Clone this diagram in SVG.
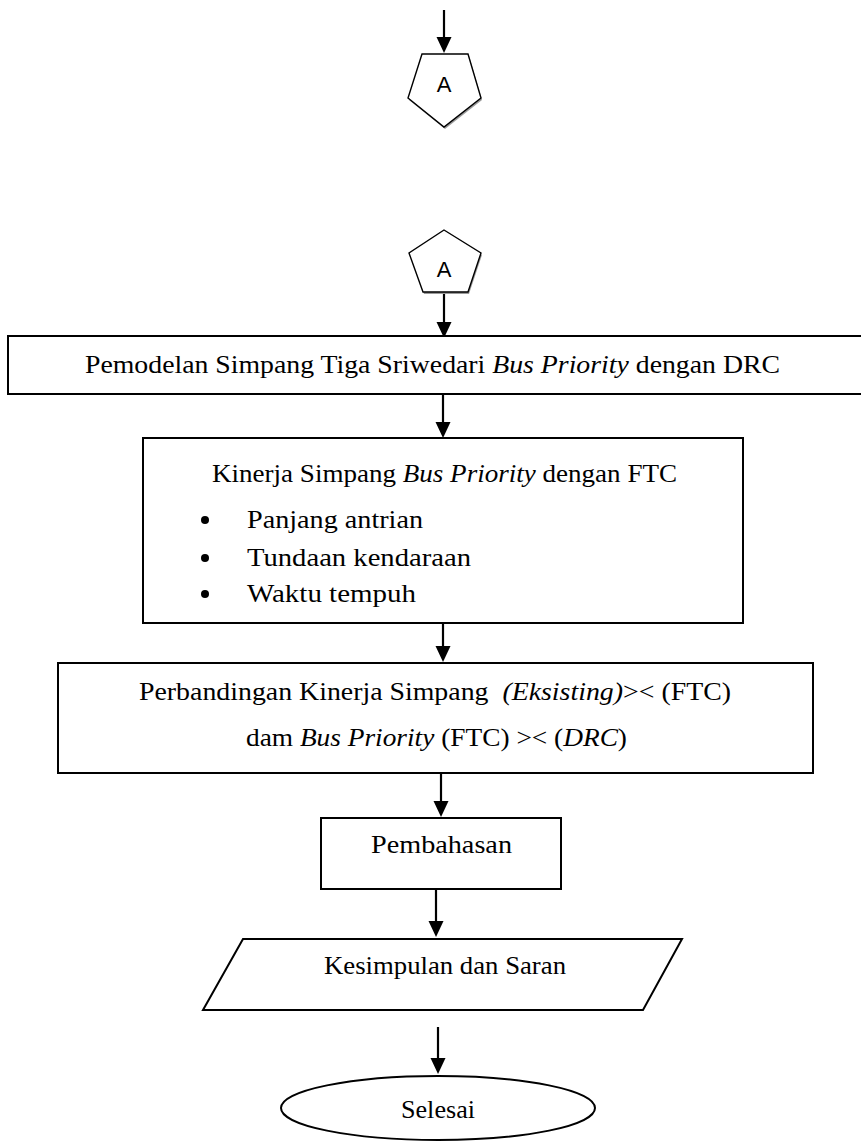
<svg xmlns="http://www.w3.org/2000/svg" width="861" height="1144" viewBox="0 0 861 1144">
<style>
.box{fill:#fff;stroke:#000;stroke-width:2}
.pent{fill:#fff;stroke:#000;stroke-width:1.4}
.shadow{fill:#9a9a9a;stroke:none}
.t{font-family:"Liberation Serif","Times New Roman",serif;font-size:26px;fill:#000}
.i{font-style:italic}
.a{font-family:"Liberation Sans",Arial,sans-serif;font-size:22px;fill:#000}
.conn{stroke:#000;stroke-width:2.2;fill:none}
.head{fill:#000}
</style>
<rect width="861" height="1144" fill="#fff"/>

<g id="connectors">
<line class="conn" x1="444" y1="10" x2="444" y2="38"/><polygon class="head" points="436.5,37 451.5,37 444,53"/>
<line class="conn" x1="444" y1="294" x2="444" y2="323"/><polygon class="head" points="436.5,322 451.5,322 444,338"/>
<line class="conn" x1="443" y1="395" x2="443" y2="423"/><polygon class="head" points="435.5,422 450.5,422 443,438"/>
<line class="conn" x1="443" y1="624" x2="443" y2="647"/><polygon class="head" points="435.5,646 450.5,646 443,662"/>
<line class="conn" x1="441" y1="774" x2="441" y2="802"/><polygon class="head" points="433.5,801 448.5,801 441,817"/>
<line class="conn" x1="436" y1="890" x2="436" y2="922"/><polygon class="head" points="428.5,921 443.5,921 436,937"/>
<line class="conn" x1="438" y1="1027" x2="438" y2="1059"/><polygon class="head" points="430.5,1058 445.5,1058 438,1074"/>
</g>

<g id="connector-A-out">
<polygon class="shadow" points="423,56 469,56 482,100 445,129 409,100"/>
<polygon class="pent" points="422,54 468,54 481,98 444,127 408,98"/>
<text class="a" x="444" y="92" text-anchor="middle">A</text>
</g>

<g id="connector-A-in">
<polygon class="shadow" points="445,232 482,255 469,294 424,294 410,255"/>
<polygon class="pent" points="444,230 481,253 468,292 423,292 409,253"/>
<text class="a" x="444" y="277" text-anchor="middle">A</text>
</g>

<g id="node-pemodelan">
<rect class="box" x="8" y="336" width="875" height="58"/>
<text class="t" x="85" y="373" textLength="695" lengthAdjust="spacingAndGlyphs">Pemodelan Simpang Tiga Sriwedari <tspan class="i">Bus Priority</tspan> dengan DRC</text>
</g>

<g id="node-kinerja">
<rect class="box" x="143" y="438" width="600" height="185"/>
<text class="t" x="212" y="482" textLength="465" lengthAdjust="spacingAndGlyphs">Kinerja Simpang <tspan class="i">Bus Priority</tspan> dengan FTC</text>
<circle cx="205" cy="520" r="4"/>
<circle cx="205" cy="558" r="4"/>
<circle cx="205" cy="594" r="4"/>
<text class="t" x="247" y="528" textLength="176" lengthAdjust="spacingAndGlyphs">Panjang antrian</text>
<text class="t" x="247" y="566" textLength="224" lengthAdjust="spacingAndGlyphs">Tundaan kendaraan</text>
<text class="t" x="247" y="602" textLength="169" lengthAdjust="spacingAndGlyphs">Waktu tempuh</text>
</g>

<g id="node-perbandingan">
<rect class="box" x="58" y="663" width="755" height="110"/>
<text class="t" x="139" y="700" textLength="592" lengthAdjust="spacingAndGlyphs" style="white-space:pre">Perbandingan Kinerja Simpang  <tspan class="i">(Eksisting)</tspan>&gt;&lt; (FTC)</text>
<text class="t" x="246" y="746" textLength="381" lengthAdjust="spacingAndGlyphs">dam <tspan class="i">Bus Priority</tspan> (FTC) &gt;&lt; (<tspan class="i">DRC</tspan>)</text>
</g>

<g id="node-pembahasan">
<rect class="box" x="321" y="818" width="240" height="71"/>
<text class="t" x="371" y="853" textLength="141" lengthAdjust="spacingAndGlyphs">Pembahasan</text>
</g>

<g id="node-kesimpulan">
<polygon class="box" points="243,939 682,939 643,1010 203,1010"/>
<text class="t" x="324" y="974" textLength="242" lengthAdjust="spacingAndGlyphs">Kesimpulan dan Saran</text>
</g>

<g id="node-selesai">
<ellipse class="box" cx="438" cy="1108" rx="157" ry="32"/>
<text class="t" x="401" y="1118" textLength="74" lengthAdjust="spacingAndGlyphs">Selesai</text>
</g>
</svg>
